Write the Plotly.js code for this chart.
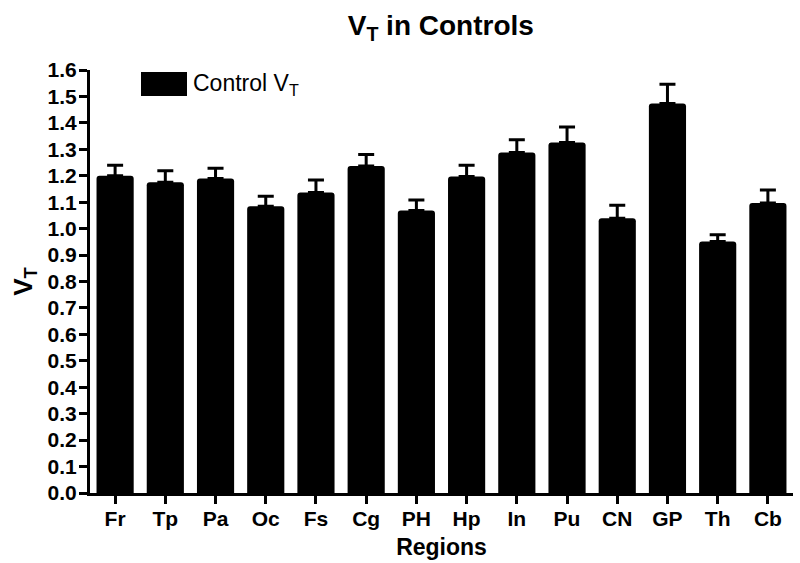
<!DOCTYPE html>
<html>
<head>
<meta charset="utf-8">
<script src="https://cdn.plot.ly/plotly-3.0.1.min.js"></script>
<style>
html,body{margin:0;padding:0;background:#fff;}
#chart{width:800px;height:563px;}
</style>
</head>
<body>
<div id="chart"></div>
<script>
var regions = ["Fr","Tp","Pa","Oc","Fs","Cg","PH","Hp","In","Pu","CN","GP","Th","Cb"];
var vtMeans = [1.20,1.175,1.19,1.085,1.137,1.237,1.069,1.197,1.288,1.326,1.039,1.473,0.951,1.097];
var vtSEM = [0.040,0.044,0.038,0.037,0.047,0.043,0.039,0.043,0.048,0.058,0.049,0.073,0.026,0.049];
var yTicks = ["0.0","0.1","0.2","0.3","0.4","0.5","0.6","0.7","0.8","0.9","1.0","1.1","1.2","1.3","1.4","1.5","1.6"];
var legendLabel = "Control V<sub>T</sub>";

var FONT = "Arial, 'Liberation Sans', sans-serif";

var trace = {
  type: "bar",
  x: regions,
  y: vtMeans,
  name: legendLabel,
  marker: {color: "#000000", cornerradius: 3, line: {width: 0}},
  error_y: {
    type: "data",
    symmetric: false,
    array: vtSEM,
    arrayminus: vtSEM.map(function(){return 0;}),
    color: "#000000",
    thickness: 3,
    width: 8
  },
  hoverinfo: "x+y"
};

var layout = {
  width: 800,
  height: 563,
  margin: {l: 90, r: 7, t: 70, b: 70},
  paper_bgcolor: "#ffffff",
  plot_bgcolor: "#ffffff",
  showlegend: false,
  bargap: 0.26,
  font: {family: FONT, color: "#000000"},
  title: {
    text: "<b>V<sub>T</sub> in Controls</b>",
    font: {family: FONT, size: 28, color: "#000000"},
    x: 0.499, xanchor: "center",
    y: 0.955, yanchor: "middle",
    xref: "paper", yref: "container"
  },
  xaxis: {
    type: "category",
    categoryorder: "array",
    categoryarray: regions,
    range: [-0.5, 13.5],
    showline: true, linecolor: "#000000", linewidth: 3,
    ticks: "outside", ticklen: 8, tickwidth: 3, tickcolor: "#000000",
    ticklabelstandoff: -3,
    showgrid: false, zeroline: false,
    tickfont: {family: FONT, size: 21, color: "#000000", weight: "bold"},
    title: {text: "<b>Regions</b>", font: {family: FONT, size: 23, color: "#000000"}, standoff: 10},
    automargin: false,
    fixedrange: true
  },
  yaxis: {
    range: [0, 1.6],
    tickvals: yTicks.map(Number),
    ticktext: yTicks,
    showline: true, linecolor: "#000000", linewidth: 3,
    ticks: "outside", ticklen: 8, tickwidth: 3, tickcolor: "#000000",
    ticklabelstandoff: -2,
    showgrid: false, zeroline: false,
    tickfont: {family: FONT, size: 21, color: "#000000", weight: "bold"},
    title: {text: "<b>V<sub>T</sub></b>", font: {family: FONT, size: 26, color: "#000000"}, standoff: 8},
    automargin: false,
    fixedrange: true
  },
  shapes: [{
    type: "rect", xref: "paper", yref: "paper",
    x0: (141-90)/703, x1: (187-90)/703,
    y0: (493-96)/423, y1: (493-72)/423,
    fillcolor: "#000000", line: {width: 0}
  }],
  annotations: [{
    xref: "paper", yref: "paper",
    x: (191-90)/703, y: (493-84)/423,
    xanchor: "left", yanchor: "middle",
    text: legendLabel, showarrow: false,
    font: {family: FONT, size: 23, color: "#000000"}
  }]
};

Plotly.newPlot("chart", [trace], layout, {displayModeBar: false, staticPlot: true});
</script>
</body>
</html>
